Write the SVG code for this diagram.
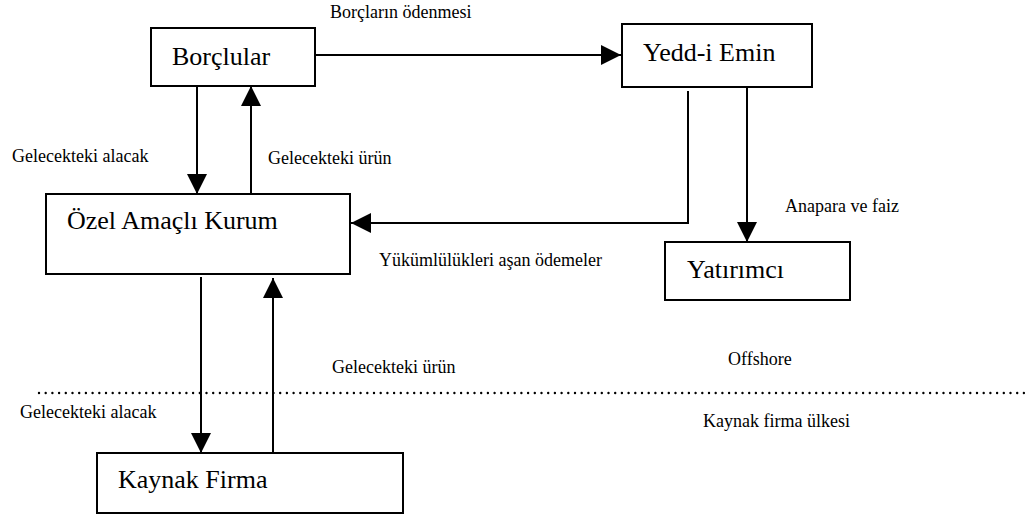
<svg xmlns="http://www.w3.org/2000/svg" width="1025" height="515" viewBox="0 0 1025 515">
<style>
text{font-family:'Liberation Serif','Times New Roman',Times,Tinos,'Nimbus Roman','DejaVu Serif',serif;fill:#000}
.box{fill:#fff;stroke:#000;stroke-width:2}
.big{font-size:26px}
.lbl{font-size:18px}
.con{fill:none;stroke:#000;stroke-width:2}
.dot{fill:none;stroke:#000;stroke-width:2.4;stroke-linecap:round;stroke-dasharray:0 6.7}
</style>
<defs>
<marker id="ah" markerUnits="userSpaceOnUse" markerWidth="20" markerHeight="20" refX="20" refY="10" orient="auto">
<path d="M0,0 L20,10 L0,20 z" fill="#000"/>
</marker>
</defs>
<rect width="1025" height="515" fill="#fff"/>
<g id="borclular"><rect class="box" x="151" y="28" width="164" height="58"/><text class="big" font-family="Liberation Serif, serif" x="172" y="65">Borçlular</text></g>
<g id="yeddiemin"><rect class="box" x="622" y="24" width="190" height="63"/><text class="big" font-family="Liberation Serif, serif" x="643" y="61">Yedd-i Emin</text></g>
<g id="ozel"><rect class="box" x="46" y="194" width="304" height="80"/><text class="big" font-family="Liberation Serif, serif" x="67" y="229">Özel Amaçlı Kurum</text></g>
<g id="yatirimci"><rect class="box" x="665" y="242" width="185" height="58"/><text class="big" font-family="Liberation Serif, serif" x="687" y="278">Yatırımcı</text></g>
<g id="kaynak"><rect class="box" x="97" y="453" width="306" height="60"/><text class="big" font-family="Liberation Serif, serif" x="118" y="488">Kaynak Firma</text></g>
<g id="connectors">
<line class="con" x1="315" y1="55" x2="621" y2="55" marker-end="url(#ah)"/>
<polyline class="con" points="688,91 688,223 351,223" marker-end="url(#ah)"/>
<line class="con" x1="747" y1="87" x2="747" y2="242" marker-end="url(#ah)"/>
<line class="con" x1="197" y1="86" x2="197" y2="194" marker-end="url(#ah)"/>
<line class="con" x1="251" y1="194" x2="251" y2="86" marker-end="url(#ah)"/>
<line class="con" x1="201" y1="277" x2="201" y2="453" marker-end="url(#ah)"/>
<line class="con" x1="273" y1="453" x2="273" y2="278" marker-end="url(#ah)"/>
</g>
<g id="boundary"><line class="dot" x1="39" y1="393" x2="1025" y2="393"/></g>
<g id="labels" font-family="Liberation Serif, serif">
<text class="lbl" x="330" y="18">Borçların ödenmesi</text>
<text class="lbl" x="12" y="162">Gelecekteki alacak</text>
<text class="lbl" x="268" y="164">Gelecekteki ürün</text>
<text class="lbl" x="379" y="266">Yükümlülükleri aşan ödemeler</text>
<text class="lbl" x="785" y="212">Anapara ve faiz</text>
<text class="lbl" x="728" y="365">Offshore</text>
<text class="lbl" x="332" y="373">Gelecekteki ürün</text>
<text class="lbl" x="20" y="418">Gelecekteki alacak</text>
<text class="lbl" x="703" y="427">Kaynak firma ülkesi</text>
</g>
</svg>
